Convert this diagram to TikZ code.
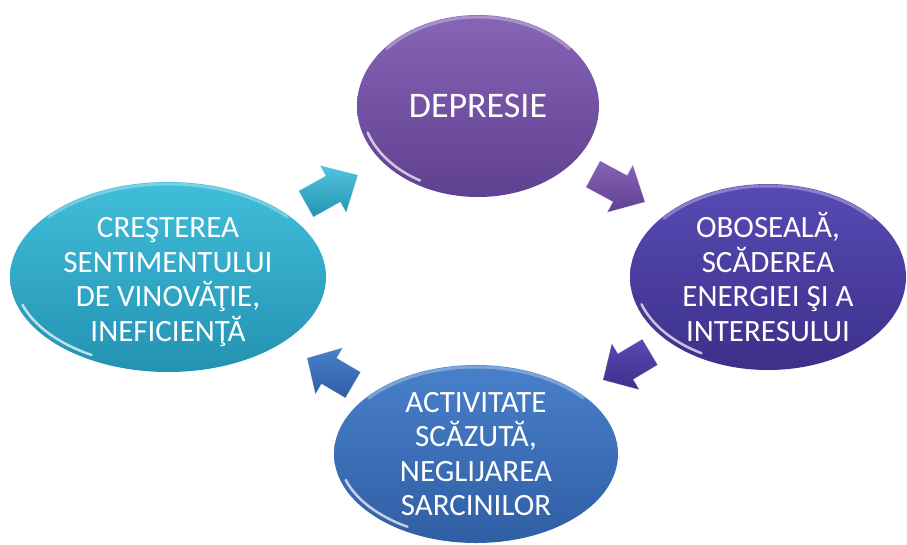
\documentclass[tikz,border=0pt]{standalone}
\usepackage{fontspec}
\setmainfont{Carlito}
\usetikzlibrary{shapes.geometric,calc}
\definecolor{depA}{RGB}{134,100,182}
\definecolor{depB}{RGB}{96,64,144}
\definecolor{cyaA}{RGB}{64,190,218}
\definecolor{cyaB}{RGB}{36,146,178}
\definecolor{indA}{RGB}{88,74,180}
\definecolor{indB}{RGB}{60,48,138}
\definecolor{bluA}{RGB}{72,128,202}
\definecolor{bluB}{RGB}{48,94,164}
\tikzset{
  bubble/.style={ellipse, inner sep=0pt, text=white, align=center,
    font=\fontsize{31}{34.5}\selectfont},
  bubbletext/.style={inner sep=0pt, text=white, align=center,
    font=\fontsize{31}{34.5}\selectfont},
  glosstop/.style={white, opacity=0.3, line width=3pt, line cap=round},
  glossbot/.style={white, opacity=0.7, line width=2.5pt, line cap=round},
  blockarr/.style={draw=white, draw opacity=0.35, line width=0.6pt, line join=round}
}
\newcommand\glossy[3]{%
  \draw[glosstop] ([shift={(40:{#2-2} and {#3-2})}]#1.center)
    arc[start angle=40, end angle=140, x radius=#2-2, y radius=#3-2];
  \draw[glossbot] ([shift={(198:{#2-5} and {#3-5})}]#1.center)
    arc[start angle=198, end angle=240, x radius=#2-5, y radius=#3-5];
}
\newcommand\blockarrow[3]{%
  \path[blockarr, #1] let \p1=(#2), \p2=(#3),
    \n1={atan2(\y2-\y1,\x2-\x1)}, \n2={veclen(\x2-\x1,\y2-\y1)} in
    [shift={(\p1)}, rotate=\n1]
    (0,-15) -- ({0.52*\n2},-15) -- ({0.52*\n2},-27) -- ({\n2},0)
    -- ({0.52*\n2},27) -- ({0.52*\n2},15) -- (0,15) -- cycle;
}
\begin{document}
\begin{tikzpicture}[x=1pt,y=1pt]
\useasboundingbox (0,0) rectangle (907,-544);
% bubbles
\node[bubble, minimum width=242pt, minimum height=182pt, top color=depA, bottom color=depB,
  font=\fontsize{36}{40}\selectfont] (dep) at (478,-106) {DEPRESIE};
\node[bubble, minimum width=276pt, minimum height=186pt, top color=indA, bottom color=indB]
  (obo) at (768,-277) {OBOSEALĂ,\\SCĂDEREA\\ENERGIEI ŞI A\\INTERESULUI};
\node[bubble, minimum width=284pt, minimum height=178pt, top color=bluA, bottom color=bluB]
  (act) at (476,-454) {ACTIVITATE\\SCĂZUTĂ,\\NEGLIJAREA\\SARCINILOR};
\node[bubble, minimum width=316pt, minimum height=190pt, top color=cyaA, bottom color=cyaB]
  (cre) at (168,-277) {};
\node[bubbletext] (cret) at (168,-282) {CREŞTEREA\\SENTIMENTULUI\\DE VINOVĂŢIE,\\INEFICIENŢĂ};
\glossy{dep}{121}{91}
\glossy{obo}{138}{93}
\glossy{act}{142}{89}
\glossy{cre}{158}{95}
% arrow ends
\coordinate (a1t) at (306,-204); \coordinate (a1h) at (358,-175);
\coordinate (a2t) at (593,-174); \coordinate (a2h) at (645,-202);
\coordinate (a3t) at (650,-352); \coordinate (a3h) at (603,-380);
\coordinate (a4t) at (353,-385); \coordinate (a4h) at (307,-358);
\blockarrow{top color=cyaA!90!white, bottom color=cyaB}{a1t}{a1h}
\blockarrow{top color=depA, bottom color=depB}{a2t}{a2h}
\blockarrow{top color=indA, bottom color=indB}{a3t}{a3h}
\blockarrow{top color=bluA, bottom color=bluB}{a4t}{a4h}
\end{tikzpicture}
\end{document}
